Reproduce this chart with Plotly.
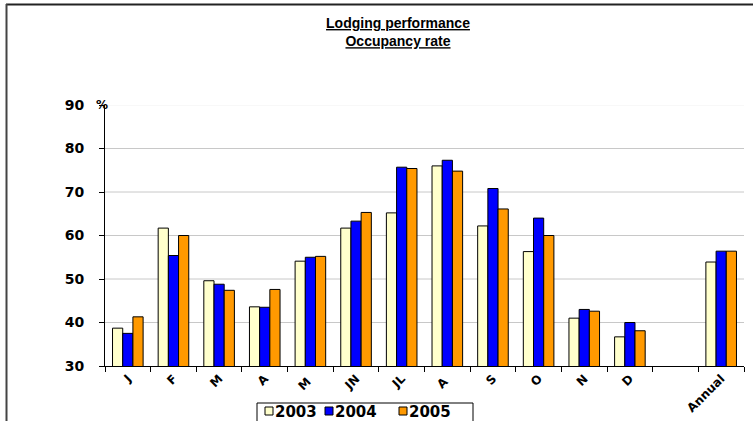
import plotly.graph_objects as go

categories = ["J", "F", "M", "A", "M ", "JN", "JL", "A ", "S", "O", "N", "D", " ", "Annual"]
years = ["2003", "2004", "2005"]
v2003 = [38.7, 61.7, 49.6, 43.6, 54.1, 61.7, 65.2, 76.0, 62.2, 56.3, 41.0, 36.7, None, 53.9]
v2004 = [37.5, 55.4, 48.8, 43.5, 55.0, 63.3, 75.7, 77.3, 70.8, 64.0, 43.0, 40.0, None, 56.4]
v2005 = [41.3, 60.0, 47.4, 47.6, 55.2, 65.3, 75.4, 74.8, 66.1, 60.0, 42.6, 38.1, None, 56.4]
y_ticks = [30, 40, 50, 60, 70, 80, 90]

colors = ["#FFFFCC", "#0000FF", "#FF9900"]
series = [v2003, v2004, v2005]

L, R, T, B = 105, 9, 105, 55
W, H = 753, 421
pw, ph = W - L - R, H - T - B


def px_x(x):
    return (x - L) / pw


def px_y(y):
    return (H - B - y) / ph


fig = go.Figure()
for name, vals, col in zip(years, series, colors):
    fig.add_trace(go.Bar(
        x=categories, y=vals, name=name,
        marker=dict(color=col, line=dict(color="#000000", width=1)),
        hoverinfo="skip", showlegend=False,
    ))

shapes = []
for t in y_ticks[1:-1]:
    shapes.append(dict(type="line", xref="paper", yref="y", x0=0, x1=1, y0=t, y1=t,
                       line=dict(color="#C8C8C8", width=1), layer="below"))
shapes.append(dict(type="line", xref="paper", yref="y", x0=0, x1=1, y0=y_ticks[-1], y1=y_ticks[-1],
                   line=dict(color="#F2F2F2", width=1), layer="below"))
# outer frame (top and left)
shapes.append(dict(type="line", xref="paper", yref="paper",
                   x0=px_x(6), x1=px_x(W + 5), y0=px_y(4.5), y1=px_y(4.5),
                   line=dict(color="#222222", width=2)))
shapes.append(dict(type="line", xref="paper", yref="paper",
                   x0=px_x(6.5), x1=px_x(6.5), y0=px_y(4), y1=px_y(H + 10),
                   line=dict(color="#444444", width=2)))

# manual legend
annotations = []
lg_left, lg_right, lg_top = 257, 473, 403
shapes.append(dict(type="rect", xref="paper", yref="paper",
                   x0=px_x(lg_left), x1=px_x(lg_right), y0=px_y(lg_top), y1=px_y(H + 10),
                   line=dict(color="#000000", width=1), fillcolor="white"))
sw_x = [265, 325, 399]
for i, (name, col) in enumerate(zip(years, colors)):
    sx = sw_x[i]
    shapes.append(dict(type="rect", xref="paper", yref="paper",
                       x0=px_x(sx), x1=px_x(sx + 8), y0=px_y(407), y1=px_y(415),
                       line=dict(color="#000000", width=1), fillcolor=col))
    annotations.append(dict(text="<b>" + name + "</b>", xref="paper", yref="paper",
                            x=px_x(sx + 8), y=px_y(412), xanchor="left", yanchor="middle",
                            showarrow=False,
                            font=dict(family="DejaVu Sans", size=15, color="#000000")))

annotations.append(dict(text="<b>%</b>", xref="paper", yref="y", x=px_x(102), y=90,
                        xanchor="center", yanchor="middle", showarrow=False,
                        font=dict(family="DejaVu Sans", size=12, color="#000000")))

fig.update_layout(
    width=W, height=H,
    margin=dict(l=L, r=R, t=T, b=B),
    paper_bgcolor="white", plot_bgcolor="white",
    barmode="group", bargap=0.33, bargroupgap=0,
    font=dict(family="DejaVu Sans", color="#000000"),
    title=dict(
        text="<b><u>Lodging performance</u></b><br><b><u>Occupancy rate</u></b>",
        x=px_x(398), xref="paper", xanchor="center",
        y=1 - 28 / H, yanchor="top", yref="container",
        font=dict(family="Liberation Sans", size=14, color="#000000"),
    ),
    showlegend=False,
    shapes=shapes,
    annotations=annotations,
)
fig.update_xaxes(
    type="category", tickangle=-45, showline=True, linecolor="#000000", linewidth=1,
    ticks="outside", tickson="boundaries", ticklen=5, tickcolor="#000000",
    tickfont=dict(family="DejaVu Sans", size=12, color="#000000", weight="bold"),
    showgrid=False, automargin=False,
)
fig.update_yaxes(
    range=[30, 90], tickvals=y_ticks, showline=True, linecolor="#000000", linewidth=1,
    ticks="outside", ticklen=5, tickcolor="#000000", ticklabelstandoff=12,
    tickfont=dict(family="DejaVu Sans", size=14, color="#000000", weight="bold"),
    showgrid=False, zeroline=False, automargin=False,
)

fig.write_html("out.html", config={"displayModeBar": False},
               post_script="document.body.style.margin='0px';document.body.style.overflow='hidden';")
